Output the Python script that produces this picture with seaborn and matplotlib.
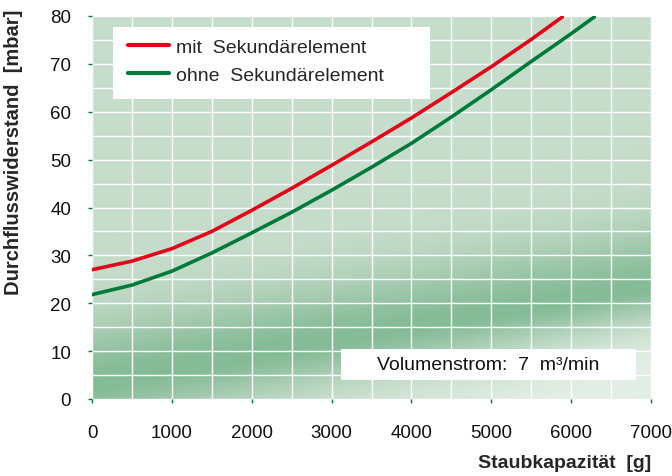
import numpy as np
import pandas as pd
import matplotlib
matplotlib.use('Agg')
import matplotlib.pyplot as plt
from matplotlib.colors import LinearSegmentedColormap
from matplotlib.patches import Rectangle
import seaborn as sns

# data
x_mit = [0, 500, 1000, 1500, 2000, 2500, 3000, 3500, 4000, 4500, 5000, 5500, 5890]
y_mit = [27.0, 28.8, 31.4, 35.0, 39.4, 44.0, 48.8, 53.7, 58.7, 64.0, 69.4, 75.1, 79.8]
x_ohne = [0, 500, 1000, 1500, 2000, 2500, 3000, 3500, 4000, 4500, 5000, 5500, 6000, 6290]
y_ohne = [21.8, 23.8, 26.7, 30.5, 34.7, 39.0, 43.6, 48.4, 53.4, 58.9, 64.6, 70.5, 76.3, 79.8]
labels = ['mit  Sekundärelement', 'ohne  Sekundärelement']
xticks = [0, 1000, 2000, 3000, 4000, 5000, 6000, 7000]
yticks = [0, 10, 20, 30, 40, 50, 60, 70, 80]

df = pd.concat([
    pd.DataFrame({'x': x_mit, 'y': y_mit, 'serie': labels[0]}),
    pd.DataFrame({'x': x_ohne, 'y': y_ohne, 'serie': labels[1]}),
])

sns.set_style('white')
plt.rcParams['font.family'] = ['Liberation Sans', 'DejaVu Sans']

fig = plt.figure(figsize=(6.72, 4.77), dpi=100)
ax = fig.add_axes([92 / 672, 77 / 477, 559 / 672, 383 / 477])

# background gradient (decorative)
gx, gy = np.meshgrid(np.linspace(0, 7000, 400), np.linspace(0, 80, 400))
center = 3 + 2.8 * gx / 1000
d = gy - center
val = np.where(d > 0, np.exp(-(d / 13.0) ** 2), np.exp(-(d / 9.0) ** 2)) * 0.92
fade = np.clip(-d / 22.0, 0, 1) * (gx / 7000) * 1.4
fade = np.clip(fade, 0, 1)
cmap = LinearSegmentedColormap.from_list('bg', ['#c7ddcb', '#80b892'])
bg = cmap(np.clip(val, 0, 1))
light = np.array([0.89, 0.935, 0.9, 1.0])
bg = bg * (1 - fade[..., None]) + light * fade[..., None]
ax.imshow(bg, extent=[0, 7000, 0, 80], origin='lower', aspect='auto',
          interpolation='bilinear', zorder=0)

sns.lineplot(data=df, x='x', y='y', hue='serie', palette=['#e2061b', '#007a3a'],
             linewidth=2.6, ax=ax, zorder=3, sort=False, legend=False)

ax.set_xlim(0, 7000)
ax.set_ylim(0, 80)
ax.set_xticks(xticks)
ax.set_yticks(yticks)
ax.set_xticks(np.arange(0, 7001, 500), minor=True)
ax.set_yticks(np.arange(0, 81, 5), minor=True)
ax.set_axisbelow(True)
ax.grid(which='both', color='white', linewidth=1.0)
for s in ax.spines.values():
    s.set_visible(False)
ax.tick_params(axis='both', which='major', direction='out', length=3, width=1,
               color='#007a3a', labelsize=13.5, labelcolor='#111111',
               bottom=True, left=True)
ax.tick_params(axis='x', which='major', pad=15)
ax.tick_params(axis='y', which='major', pad=12)
ax.tick_params(which='minor', length=0)

ax.set_xlabel('Staubkapazität  [g]', fontsize=14, fontweight='bold', ha='right', va='top')
ax.xaxis.set_label_coords(1.0, -0.143)
ax.set_ylabel('Durchflusswiderstand  [mbar]', fontsize=14.5, fontweight='bold', ha='right')
ax.yaxis.set_label_coords(-0.124, 1.018)

# legend box
ax.add_patch(Rectangle((263, 62.7), 3969, 15.0, facecolor='white', edgecolor='none', zorder=4))
handles = [plt.Line2D([], [], color='#e2061b', lw=3), plt.Line2D([], [], color='#007a3a', lw=3)]
leg = ax.legend(handles, labels, loc='center left', bbox_to_anchor=(0.0644, 0.882), fontsize=14,
                frameon=False, handlelength=2.1, handletextpad=0.36, borderpad=0,
                labelspacing=0.56, borderaxespad=0)
leg.set_zorder(5)

# annotation box
ax.add_patch(Rectangle((3118, 3.97), 3694, 6.47, facecolor='white', edgecolor='none', zorder=4))
ax.text(4965, 7.2, 'Volumenstrom:  7  m³/min', ha='center', va='center',
        fontsize=14, color='#111111', zorder=5)

fig.savefig('out.png', dpi=100)
